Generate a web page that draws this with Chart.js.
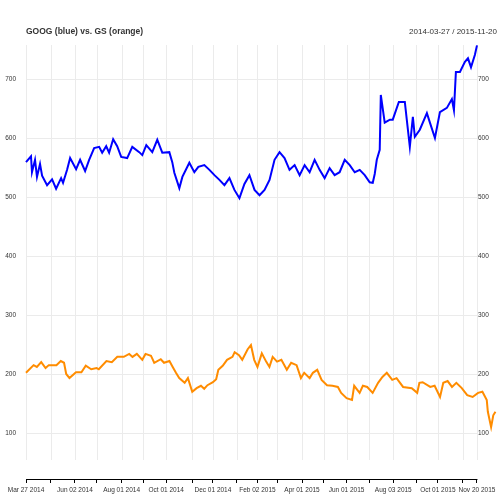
<!DOCTYPE html>
<html><head><meta charset="utf-8">
<script src="https://cdn.jsdelivr.net/npm/chart.js@4"></script>
<style>html,body{margin:0;padding:0;background:#fff}#w{width:504px;height:504px}</style>
</head><body><div id="w"><canvas id="c"></canvas></div>
<script>
const title = "GOOG (blue) vs. GS (orange)";
const dateRange = "2014-03-27 / 2015-11-20";
const tickIdx = [0,23,45,65,88,108,129,153,172,194,213,231,254,274,295,316,338,359,379,402,415];
const tickLabels = ["Mar 27 2014","","Jun 02 2014","","Aug 01 2014","","Oct 01 2014","","Dec 01 2014","","Feb 02 2015","","Apr 01 2015","","Jun 01 2015","","Aug 03 2015","","Oct 01 2015","","Nov 20 2015"];
const yTicks = [100,200,300,400,500,600,700];
const googX = [0,4.6,5.5,8.3,10.1,12.9,14.8,19.4,24,27.7,32.3,34.1,37.8,40.6,46.1,49.8,54.4,58.1,62.7,67.3,70.1,73.8,76.5,80.2,83.9,87.6,93.1,97.8,104.2,107,110.7,116.2,120.8,125.4,131.9,134.6,136.5,141.1,143.9,150.3,154.9,158.6,164.1,168.8,173.4,178,182.6,187.2,191.8,196.4,201,205.6,210.3,214.9,219.5,224.1,228.7,233.3,237.9,242.5,247.2,251.8,256.4,261,265.6,270.2,274.8,279.4,284,288.6,293.3,297.9,302.5,307.1,311.7,316.3,319.1,320.9,322.8,325.5,326.5,330.1,334.8,337.5,343.1,348.6,350.4,353.2,356,357.8,362.4,368.9,371.7,376.3,380.9,387.3,391.9,393.8,395.6,399.3,403.9,406.7,409.5,413.1,415];
const googY = [559,569,542,563,534,556,536,520,530,514,532,524,546,566,547,563,544,563,583,585,575,586,575,598,586,568,566,585,576,571,588,576,597,575,576,559,541,515,534,558,542,551,554,546,537,529,520,532,512,498,522,537,512,503,512,529,563,576,566,546,554,537,554,542,563,546,532,549,537,542,563,554,542,546,537,525,524,539,563,580,673,626,631,631,661,661,631,585,636,602,614,642,626,600,644,651,666,647,712,712,729,735,720,741,757];
const gsX = [0,7,10,14,18,21,28,32,35,37,40,46,51,55,60,65,67,74,79,84,90,95,98,102,107,110,115,118,124,127,132,135,138,141,146,149,153,157,161,164,167,172,175,177,181,185,190,192,196,199,204,207,210,213,217,221,224,227,231,235,240,244,249,253,256,261,264,268,272,277,282,287,290,295,300,302,307,310,314,319,324,328,332,337,341,347,355,360,362,365,372,376,381,384,388,392,396,401,406,411,416,420,424,425,428,430,432];
const gsY = [202,215,212,220,210,215,215,222,219,200,193,203,203,214,208,210,208,222,220,229,229,234,229,234,224,234,231,219,225,219,222,212,202,193,185,193,170,176,180,175,181,186,191,207,214,224,229,237,232,224,242,249,224,212,235,221,212,229,221,224,207,219,215,193,202,193,202,207,190,181,180,178,168,159,156,180,168,180,178,168,185,195,202,190,193,178,176,168,185,186,178,180,161,185,188,178,185,176,164,161,168,170,156,136,110,130,136];

const lastIdx = tickIdx[tickIdx.length - 1];
const pts = (xs, ys) => xs.map((x, i) => ({x, y: ys[i]}));
const FONT = '"Liberation Sans", Arial, sans-serif';
const grid = {
  id: 'grid',
  beforeDatasetsDraw(chart) {
    const {ctx, scales: {x, y}, chartArea} = chart;
    const right = x.getPixelForValue(lastIdx);
    ctx.save(); ctx.strokeStyle = '#ebebeb'; ctx.lineWidth = 1;
    tickIdx.forEach(v => { const px = Math.round(x.getPixelForValue(v)) + 0.5;
      ctx.beginPath(); ctx.moveTo(px, chartArea.top); ctx.lineTo(px, chartArea.bottom - 19); ctx.stroke(); });
    yTicks.forEach(v => { const py = Math.round(y.getPixelForValue(v)) + 0.5;
      ctx.beginPath(); ctx.moveTo(chartArea.left, py); ctx.lineTo(right, py); ctx.stroke(); });
    ctx.fillStyle = '#333'; ctx.font = '6.5px ' + FONT; ctx.textAlign = 'left'; ctx.textBaseline = 'middle';
    yTicks.forEach(v => ctx.fillText(String(v), right + 1, y.getPixelForValue(v)));
    ctx.restore();
  },
  afterDraw(chart) {
    const ctx = chart.ctx; ctx.save(); ctx.fillStyle = '#333'; ctx.textBaseline = 'middle';
    ctx.font = 'bold 8.5px ' + FONT; ctx.textAlign = 'left';
    ctx.fillText(title, 26, 32);
    ctx.font = '8px ' + FONT; ctx.textAlign = 'right';
    ctx.fillText(dateRange, 497, 32);
    ctx.restore();
  }
};
new Chart(document.getElementById('c'), {
  type: 'line',
  data: {datasets: [
    {data: pts(googX, googY), borderColor: '#0000ff', borderWidth: 2, pointRadius: 0, tension: 0, clip: false},
    {data: pts(gsX, gsY), borderColor: '#ff8c00', borderWidth: 2, pointRadius: 0, tension: 0, clip: false}
  ]},
  plugins: [grid],
  options: {
    responsive: true, maintainAspectRatio: false, animation: false,
    layout: {padding: {top: 45, left: 0, right: 8, bottom: 0}},
    plugins: {legend: {display: false}, tooltip: {enabled: false}},
    scales: {
      x: {type: 'linear', min: 0, max: 432.5,
        afterBuildTicks: s => { s.ticks = tickIdx.map(v => ({value: v})); },
        afterFit: s => { s.height = 25; },
        border: {display: false},
        grid: {drawOnChartArea: false, tickLength: 4, color: '#000'},
        ticks: {autoSkip: false, maxRotation: 0, padding: 3, color: '#333',
          font: {size: 6.5, family: FONT},
          callback: (v, i) => tickLabels[i]}
      },
      y: {type: 'linear', min: 22, max: 757.6, position: 'left',
        afterBuildTicks: s => { s.ticks = yTicks.map(v => ({value: v})); },
        afterFit: s => { s.width = 26; },
        border: {display: false},
        grid: {display: false},
        ticks: {font: {size: 6.5, family: FONT}, color: '#333', padding: 2}
      }
    }
  }
});
// x axis baseline spanning first to last tick, drawn via the x scale
Chart.register({id: 'xline', afterDraw(chart) {
  const {ctx, scales: {x}} = chart; if (!x) return;
  ctx.save(); ctx.strokeStyle = '#000'; ctx.lineWidth = 1;
  const py = Math.round(x.top) + 0.5;
  ctx.beginPath(); ctx.moveTo(x.getPixelForValue(0), py); ctx.lineTo(x.getPixelForValue(lastIdx) + 0.5, py); ctx.stroke();
  ctx.restore();
}});
Chart.getChart('c').update();
</script></body></html>
